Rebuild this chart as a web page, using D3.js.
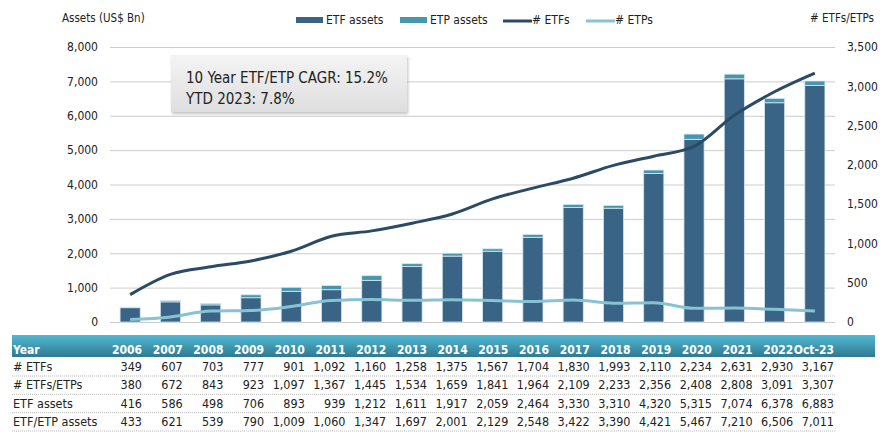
<!DOCTYPE html>
<html>
<head>
<meta charset="utf-8">
<script src="https://cdn.jsdelivr.net/npm/d3@7"></script>
<style>
  body { margin: 0; background: #fff; }
  text { font-family: "DejaVu Sans Condensed", "DejaVu Sans", sans-serif; font-stretch: condensed; fill: #222; }
</style>
</head>
<body>
<div id="chart"></div>
<script>
// Chart data
var years = ["2006", "2007", "2008", "2009", "2010", "2011", "2012", "2013", "2014",
             "2015", "2016", "2017", "2018", "2019", "2020", "2021", "2022", "Oct-23"];
var numETFs = [349, 607, 703, 777, 901, 1092, 1160, 1258, 1375, 1567, 1704, 1830, 1993, 2110, 2234, 2631, 2930, 3167];
var numETFsETPs = [380, 672, 843, 923, 1097, 1367, 1445, 1534, 1659, 1841, 1964, 2109, 2233, 2356, 2408, 2808, 3091, 3307];
var numETPs = [31, 65, 140, 146, 196, 275, 285, 276, 284, 274, 260, 279, 240, 246, 174, 177, 161, 140];
var etfAssets = [416, 586, 498, 706, 893, 939, 1212, 1611, 1917, 2059, 2464, 3330, 3310, 4320, 5315, 7074, 6378, 6883];
var etpAssets = [17, 35, 41, 84, 116, 121, 135, 86, 84, 70, 84, 92, 80, 101, 152, 136, 128, 128];
var totalAssets = [433, 621, 539, 790, 1009, 1060, 1347, 1697, 2001, 2129, 2548, 3422, 3390, 4421, 5467, 7210, 6506, 7011];
var leftTicks = [0, 1000, 2000, 3000, 4000, 5000, 6000, 7000, 8000];
var rightTicks = [0, 500, 1000, 1500, 2000, 2500, 3000, 3500];
var tableRows = [
  { label: "# ETFs", values: numETFs },
  { label: "# ETFs/ETPs", values: numETFsETPs },
  { label: "ETF assets", values: etfAssets },
  { label: "ETF/ETP assets", values: totalAssets }
];

var W = 885, H = 436;
var plot = { left: 110, right: 835, top: 47, bottom: 322 };

var svg = d3.select("#chart").append("svg")
    .attr("width", W).attr("height", H);

var defs = svg.append("defs");
var hg = defs.append("linearGradient").attr("id", "hdr").attr("x1", 0).attr("y1", 0).attr("x2", 0).attr("y2", 1);
hg.append("stop").attr("offset", "0%").attr("stop-color", "#52b8d3");
hg.append("stop").attr("offset", "100%").attr("stop-color", "#2e7a91");
var bg = defs.append("linearGradient").attr("id", "box").attr("x1", 0).attr("y1", 0).attr("x2", 0).attr("y2", 1);
bg.append("stop").attr("offset", "0%").attr("stop-color", "#f4f4f4");
bg.append("stop").attr("offset", "100%").attr("stop-color", "#dedede");
var sh = defs.append("filter").attr("id", "shadow").attr("x", "-10%").attr("y", "-10%").attr("width", "130%").attr("height", "140%");
sh.append("feDropShadow").attr("dx", 1).attr("dy", 2).attr("stdDeviation", 1.5).attr("flood-color", "#999").attr("flood-opacity", 0.6);

// Scales
var x = d3.scaleBand().domain(years).range([plot.left, plot.right]).paddingInner(0.5).paddingOuter(0.25);
var yL = d3.scaleLinear().domain([0, 8000]).range([plot.bottom, plot.top]);
var yR = d3.scaleLinear().domain([0, 3500]).range([plot.bottom, plot.top]);
// table columns are a little wider than the bar bands
var colRight = d3.scalePoint().domain(years).range([142, 834]);

// Gridlines
svg.append("g")
    .attr("transform", "translate(" + plot.left + ",0)")
    .call(d3.axisLeft(yL).tickValues(leftTicks).tickSize(-(plot.right - plot.left)).tickFormat(""))
    .call(g => g.select(".domain").remove())
    .call(g => g.selectAll("line").attr("stroke", "#cccccc"));

// Left axis labels
svg.append("g")
    .attr("transform", "translate(" + (plot.left - 9) + ",0)")
    .call(d3.axisLeft(yL).tickValues(leftTicks).tickSize(0).tickFormat(d3.format(",")))
    .call(g => g.select(".domain").remove())
    .call(g => g.selectAll("text").style("font-size", "12px").attr("fill", "#222"));

// Right axis labels
svg.append("g")
    .attr("transform", "translate(" + (plot.right + 9) + ",0)")
    .call(d3.axisRight(yR).tickValues(rightTicks).tickSize(0).tickFormat(d3.format(",")))
    .call(g => g.select(".domain").remove())
    .call(g => g.selectAll("text").style("font-size", "12px").attr("fill", "#222"));

// Axis titles
svg.append("text").attr("x", 62).attr("y", 22).style("font-size", "11.5px").text("Assets (US$ Bn)");
svg.append("text").attr("x", 874).attr("y", 22).attr("text-anchor", "end").style("font-size", "11.5px").text("# ETFs/ETPs");

// Stacked bars
var stackData = years.map((y, i) => ({ year: y, etf: etfAssets[i], etp: etpAssets[i] }));
var series = d3.stack().keys(["etf", "etp"])(stackData);
var colors = { etf: "#3a6485", etp: "#4697ad" };
svg.append("g").selectAll("g")
  .data(series).enter().append("g")
    .attr("fill", d => colors[d.key])
  .selectAll("rect")
  .data(d => d).enter().append("rect")
    .attr("x", d => x(d.data.year))
    .attr("width", x.bandwidth())
    .attr("y", d => yL(d[1]))
    .attr("height", d => yL(d[0]) - yL(d[1]))
    .attr("stroke", "#d7e6ee")
    .attr("stroke-width", 0.8);

// Lines
var cx = d => x(d) + x.bandwidth() / 2;
var line = d3.line().x((d, i) => cx(years[i])).y(d => yR(d)).curve(d3.curveMonotoneX);
svg.append("path").datum(numETPs).attr("d", line)
    .attr("fill", "none").attr("stroke", "#88c3d5").attr("stroke-width", 3);
svg.append("path").datum(numETFs).attr("d", line)
    .attr("fill", "none").attr("stroke", "#2a4a66").attr("stroke-width", 3);

// Legend
var legend = svg.append("g").style("font-size", "12px");
var legItems = [
  { label: "ETF assets", type: "rect", color: "#3a6485", x: 296 },
  { label: "ETP assets", type: "rect", color: "#4697ad", x: 400 },
  { label: "# ETFs", type: "line", color: "#2a4a66", x: 503 },
  { label: "# ETPs", type: "line", color: "#88c3d5", x: 586 }
];
legItems.forEach(it => {
  if (it.type === "rect") {
    legend.append("rect").attr("x", it.x).attr("y", 17).attr("width", 27).attr("height", 6).attr("fill", it.color);
    legend.append("text").attr("x", it.x + 30).attr("y", 24).text(it.label);
  } else {
    legend.append("line").attr("x1", it.x).attr("x2", it.x + 29).attr("y1", 21).attr("y2", 21)
        .attr("stroke", it.color).attr("stroke-width", 3);
    legend.append("text").attr("x", it.x + 29).attr("y", 24).text(it.label);
  }
});

// Annotation box
var note = svg.append("g");
note.append("rect").attr("x", 171).attr("y", 55).attr("width", 236).attr("height", 57)
    .attr("fill", "url(#box)").attr("filter", "url(#shadow)");
note.append("text").attr("x", 186).attr("y", 83).style("font-size", "15px").attr("fill", "#333").text("10 Year ETF/ETP CAGR: 15.2%");
note.append("text").attr("x", 186).attr("y", 104).style("font-size", "15px").attr("fill", "#333").text("YTD 2023: 7.8%");

// Data table
var table = svg.append("g");
table.append("rect").attr("x", 12).attr("y", 335).attr("width", 863).attr("height", 22).attr("fill", "url(#hdr)");
table.append("text").attr("x", 13).attr("y", 354).style("font-size", "12px").style("font-weight", "bold")
    .style("fill", "#fff").text("Year");
table.selectAll(".hyr").data(years).enter().append("text")
    .attr("x", d => colRight(d)).attr("y", 354)
    .attr("text-anchor", "end")
    .style("font-size", "12px").style("font-weight", "bold").style("fill", "#fff")
    .text(d => d);

var rowY = d3.scalePoint().domain(tableRows.map(r => r.label)).range([371, 426]);
tableRows.forEach((row, ri) => {
  var yy = rowY(row.label);
  table.append("text").attr("x", 13).attr("y", yy).style("font-size", "12.5px").text(row.label);
  table.selectAll(".v" + ri).data(row.values).enter().append("text")
      .attr("x", (d, i) => colRight(years[i])).attr("y", yy)
      .attr("text-anchor", "end").style("font-size", "12.5px")
      .text(d => d3.format(",")(d));
  table.append("line").attr("x1", 12).attr("x2", 835).attr("y1", yy + 5).attr("y2", yy + 5)
      .attr("stroke", "#bbb").attr("stroke-dasharray", "1,1");
});
</script>
</body>
</html>
